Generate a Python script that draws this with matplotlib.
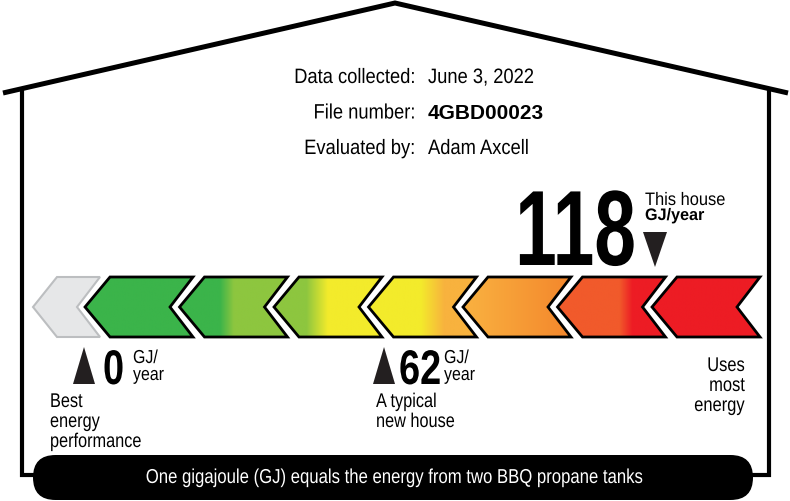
import matplotlib
matplotlib.use("Agg")
import matplotlib.pyplot as plt
import numpy as np
from matplotlib.patches import Polygon, FancyBboxPatch
from matplotlib.colors import LinearSegmentedColormap
from matplotlib.patheffects import AbstractPathEffect
from matplotlib.transforms import Affine2D

# label header
info_labels = ["Data collected:", "File number:", "Evaluated by:"]
info_values = ["June 3, 2022", "4GBD00023", "Adam Axcell"]

# energy ratings, GJ/year
house_value = 118
typical_value = 62
best_value = 0

# chevron colours (left -> right of each chevron)
seg_left = ["#3bb44a", "#3bb44a", "#8dc63f", "#f3eb2b", "#f9ae3f", "#f15a2b", "#ed1c24"]
seg_right = ["#3bb44a", "#8dc63f", "#f3eb2b", "#f8b23e", "#f4892d", "#ed1c24", "#ed1c24"]
seg_blend = [(0.4, 0.5), (0.37, 0.5), (0.3, 0.5), (0.48, 0.7), (0.1, 0.95), (0.57, 0.69), (0.4, 0.5)]

footer = "One gigajoule (GJ) equals the energy from two BBQ propane tanks"

FONT = ["Liberation Sans", "DejaVu Sans"]
INK = "#231f20"

# pixel scale for GJ values along the bar
x_zero = 84
px_per_gj = (655 - 84) / 118.0


class Squeeze(AbstractPathEffect):
    # narrow the glyphs horizontally (no condensed font is installed)
    def __init__(self, sx=0.85, anchor="left"):
        super().__init__()
        self.sx = sx
        self.anchor = anchor

    def draw_path(self, renderer, gc, tpath, affine, rgbFace=None):
        v = tpath.vertices
        if len(v) == 0:
            return
        if self.anchor == "right":
            px = v[:, 0].max()
        elif self.anchor == "center":
            px = (v[:, 0].min() + v[:, 0].max()) / 2
        else:
            px = 0
        sq = Affine2D().translate(-px, 0).scale(self.sx, 1).translate(px, 0)
        renderer.draw_path(gc, tpath, sq + affine, rgbFace)


def gj_x(v):
    return x_zero + v * px_per_gj


def chevron(x0, w=108, tip=25, notch=23, yc=307, h=30):
    return [(x0, yc), (x0 + tip, yc - h), (x0 + w, yc - h),
            (x0 + w - notch, yc), (x0 + w, yc + h), (x0 + tip, yc + h)]


fig = plt.figure(figsize=(7.9, 5.01), dpi=100)
ax = fig.add_axes([0, 0, 1, 1])
ax.axis("off")


def ntext(x, y, s, size, ha="left", sx=0.85, **kw):
    return ax.text(x, y, s, ha=ha, va="baseline", fontsize=size, family=FONT,
                   path_effects=[Squeeze(sx, ha)], **kw)


# house outline
ax.plot([3, 395, 788], [93, 3, 93], color="black", lw=3.6, solid_capstyle="butt",
        solid_joinstyle="miter")
ax.plot([22, 22, 45], [90, 475, 475], color="black", lw=3, solid_joinstyle="miter")
ax.plot([769, 769, 745], [91, 475, 475], color="black", lw=3, solid_joinstyle="miter")

# header text
for i, (lab, val) in enumerate(zip(info_labels, info_values)):
    yb = 83 + i * 35.5
    ntext(416, yb, lab, 15, ha="right", sx=0.88)
    if i == 1:
        ax.text(428, yb, val, ha="left", va="baseline", fontsize=15, family=FONT,
                weight="bold")
    else:
        ntext(428, yb, val, 15, sx=0.88)

# grey "beyond best" chevron
ax.add_patch(Polygon(chevron(33, w=67, tip=24, notch=23), closed=True, fc="#e6e7e8",
                     ec="#bcbec0", lw=1.5, zorder=2))

# coloured chevrons
grad = np.linspace(0, 1, 256).reshape(1, -1)
for k in range(len(seg_left)):
    x0 = 85 + k * 94.5
    b0, b1 = seg_blend[k]
    cmap = LinearSegmentedColormap.from_list(
        "seg%d" % k, [(0, seg_left[k]), (b0, seg_left[k]), (b1, seg_right[k]), (1, seg_right[k])])
    poly = Polygon(chevron(x0), closed=True, fc="none", ec="black", lw=2, zorder=3,
                   joinstyle="miter")
    ax.add_patch(poly)
    im = ax.imshow(grad, cmap=cmap, extent=(x0, x0 + 108, 337, 277), aspect="auto",
                   zorder=2, interpolation="bilinear")
    im.set_clip_path(poly)

# this house marker
hx = gj_x(house_value)
ax.add_patch(Polygon([(hx - 12, 232), (hx + 12, 232), (hx, 267)], closed=True, fc=INK, ec="none"))
ntext(hx - 18, 265, str(house_value), 77, ha="right", sx=0.7, weight="bold")
ntext(hx - 10, 205, "This house", 13, sx=0.91)
ntext(hx - 10, 220, "GJ/year", 12, sx=0.97, weight="bold")

# best and typical markers
markers = [
    (best_value, 19, 49, ["Best", "energy", "performance"], -34),
    (typical_value, 15, 60, ["A typical", "new house"], -8),
]
for val, num_dx, unit_dx, lines, lab_dx in markers:
    mx = gj_x(val)
    ax.add_patch(Polygon([(mx, 347), (mx - 11, 384), (mx + 11, 384)], closed=True,
                         fc=INK, ec="none"))
    ntext(mx + num_dx, 384, str(val), 35, sx=0.78, weight="bold")
    ntext(mx + unit_dx, 363, "GJ/", 13.5)
    ntext(mx + unit_dx, 380, "year", 13.5)
    for j, line in enumerate(lines):
        ntext(mx + lab_dx, 407 + j * 20, line, 14.3, sx=0.82)

for j, line in enumerate(["Uses", "most", "energy"]):
    ntext(745, 371 + j * 20, line, 14.3, ha="right", sx=0.83)

# footer pill
ax.add_patch(FancyBboxPatch((33, 455), 720, 45, boxstyle="round,pad=0,rounding_size=22.5",
                            fc="black", ec="none", zorder=4))
ntext(395, 483, footer, 14.5, ha="center", sx=0.83, color="white", zorder=5)

ax.set_xlim(0, 790)
ax.set_ylim(501, 0)
fig.savefig("out.png", dpi=100)
